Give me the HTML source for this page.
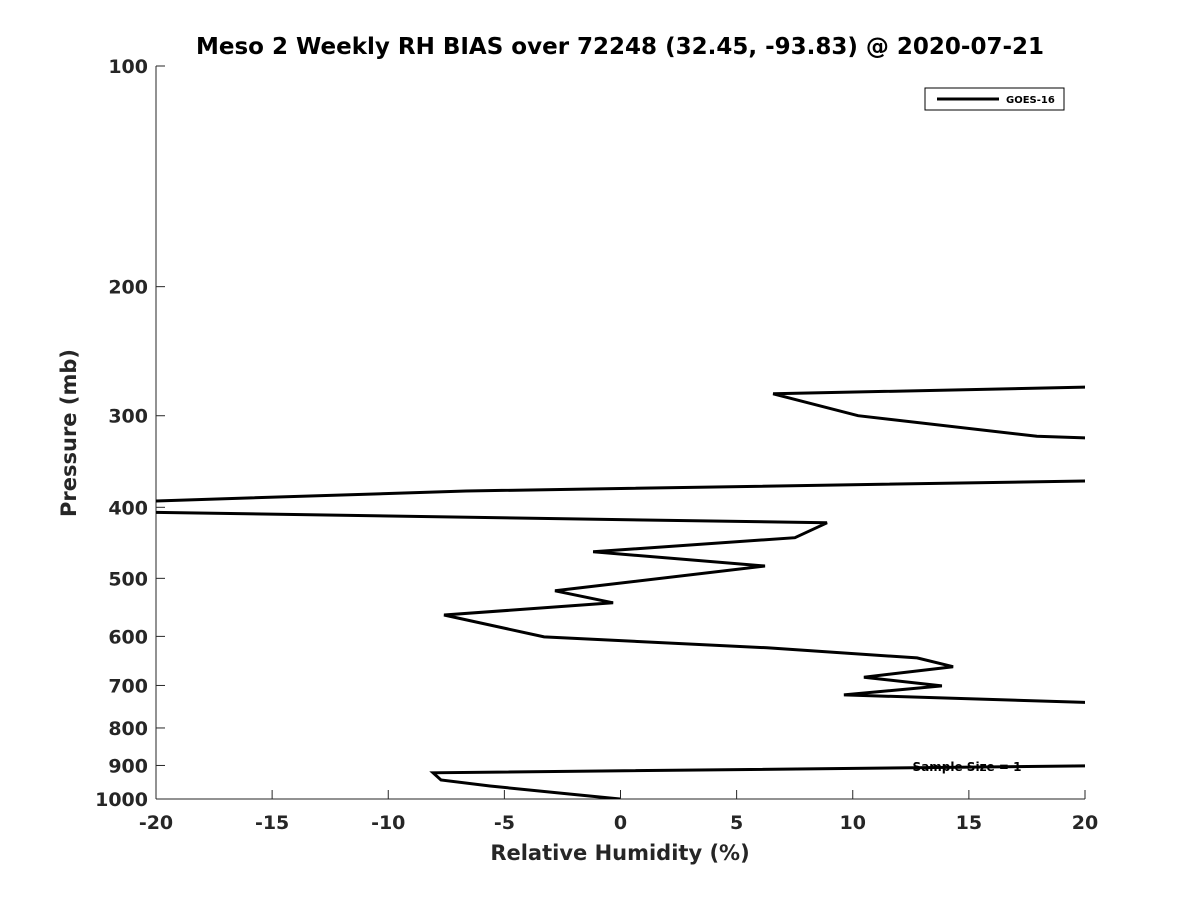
<!DOCTYPE html>
<html><head><meta charset="utf-8"><style>
body{margin:0;background:#fff;font-family:"Liberation Sans",sans-serif}
svg text{font-family:"DejaVu Sans","Liberation Sans",sans-serif;font-weight:bold;fill:#262626}
</style></head><body>
<svg id="chart" width="1200" height="900" xmlns="http://www.w3.org/2000/svg">
<defs><clipPath id="plotclip"><rect x="156" y="66" width="929" height="733"/></clipPath></defs>
<text x="620" y="54" text-anchor="middle" font-size="23" style="fill:#000">Meso 2 Weekly RH BIAS over 72248 (32.45, -93.83) @ 2020-07-21</text>
<g id="axes"></g>
<path id="series" clip-path="url(#plotclip)" fill="none" stroke="#000" stroke-width="3"/>
<text x="967" y="771" text-anchor="middle" font-size="12" style="fill:#000">Sample Size = 1</text>
<g>
<rect x="925" y="88" width="139" height="22" fill="#fff" stroke="#000" stroke-width="1"/>
<line x1="937" y1="99" x2="999" y2="99" stroke="#000" stroke-width="3"/>
<text x="1006" y="103" font-size="10" style="fill:#000">GOES-16</text>
</g>
<text x="620" y="860" text-anchor="middle" font-size="21">Relative Humidity (%)</text>
<text transform="translate(76,433) rotate(-90)" text-anchor="middle" font-size="21">Pressure (mb)</text>
</svg>
<script>
const xTicks=[-20,-15,-10,-5,0,5,10,15,20];
const yTicks=[100,200,300,400,500,600,700,800,900,1000];
const rhValues=[-0.02,-2.26,-5.62,-7.73,-8.07,20.5,21,9.62,13.84,10.48,14.32,12.77,6.31,-3.29,-7.6,-0.32,-2.82,6.22,-1.18,7.51,8.89,-21,-21,-6.65,20.5,20.5,17.93,10.23,6.57,20.5];
const pressures=[1000,984,960,942,921,901,740,721,701,682,660,642,622,601,561,540,520,481,460,440,420,406,393,380,368,322,320,300,280,274];
const X0=156,X1=1085,Y0=66,Y1=799;
function xs(v){return X0+(v+20)/40*(X1-X0);}
function ys(p){return Y0+(Math.log10(p)-2)*(Y1-Y0);}
const ns="http://www.w3.org/2000/svg";
const ax=document.getElementById('axes');
function mk(t,a){const e=document.createElementNS(ns,t);for(const k in a)e.setAttribute(k,a[k]);ax.appendChild(e);return e;}
let l=mk('line',{x1:X0,y1:Y0,x2:X0,y2:Y1,stroke:'#262626','stroke-width':1});


l=mk('line',{x1:X0,y1:Y1,x2:X1,y2:Y1,stroke:'#262626','stroke-width':1});


xTicks.forEach(v=>{
 const x=xs(v);
 mk('line',{x1:x,y1:Y1,x2:x,y2:Y1-9,stroke:'#262626'});
 const t=mk('text',{x:x,y:829,'text-anchor':'middle','font-size':19});
 t.textContent=v;
 
 
});
yTicks.forEach(p=>{
 const y=ys(p);
 mk('line',{x1:X0,y1:y,x2:X0+9,y2:y,stroke:'#262626'});
 const t=mk('text',{x:148,y:y+7,'text-anchor':'end','font-size':19});
 t.textContent=p;
 
 
});
document.getElementById('series').setAttribute('d',rhValues.map((v,i)=>(i?'L':'M')+xs(v).toFixed(1)+','+ys(pressures[i]).toFixed(1)).join(''));
</script>
</body></html>
